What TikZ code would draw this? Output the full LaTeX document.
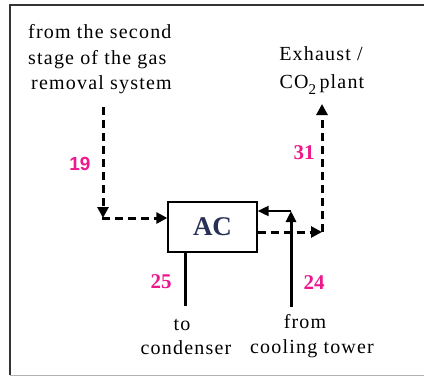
\documentclass[tikz,border=0pt]{standalone}
\usepackage{fontspec}
\setmainfont{Liberation Serif}
\newfontfamily\labsans{Liberation Sans}
\newfontfamily\spaced[LetterSpace=6]{Liberation Serif}
\usetikzlibrary{arrows.meta}
\definecolor{pinklab}{RGB}{236,24,140}
\definecolor{acblue}{RGB}{40,48,86}
\tikzset{
  flow/.style={line width=3pt, dash pattern=on 8pt off 5pt, -{Triangle[length=11pt,width=11pt]}},
  solidflow/.style={line width=3pt, -{Triangle[length=11pt,width=10pt]}},
  solidplain/.style={line width=3pt},
  txt/.style={font=\spaced\fontsize{20}{26}\selectfont, inner sep=0pt},
  labserif/.style={text=pinklab, font=\fontsize{21}{21}\selectfont\bfseries, inner sep=0pt},
  labs/.style={text=pinklab, font=\labsans\fontsize{19}{19}\selectfont\bfseries, inner sep=0pt},
  unit/.style={draw, line width=1.3pt, minimum width=89pt, minimum height=50pt, inner sep=0pt,
    font=\fontsize{27}{27}\selectfont\bfseries, text=acblue}
}
\begin{document}
\begin{tikzpicture}[x=1pt,y=-1pt]
\useasboundingbox (0,0) rectangle (424,378);
% frame
\draw[line width=2.4pt, black!80] (10,375) -- (10,5) -- (424,5);
\draw[line width=0.8pt, black!30] (10,375) -- (424,375);
% unit
\node[unit] (ac) at (212.5,227) {AC};
% top-left text
\node[txt, anchor=base west] (src1) at (28,38) {from the second};
\node[txt, anchor=base west] (src2) at (28,64) {stage of the gas};
\node[txt, anchor=base west] (src3) at (31,89) {removal system};
\node[txt, anchor=base] (exh1) at (321,60) {Exhaust /};
\node[txt, anchor=base] (exh2) at (322,88) {CO\raisebox{-6pt}{\fontsize{15}{15}\selectfont 2}\,plant};
% coordinates
\coordinate (s19top) at (103,107);
\coordinate (s19c) at (103,218);
\coordinate (s31c) at (322,232);
\coordinate (s31top) at (322,104);
\coordinate (s24bot) at (291,307);
\coordinate (s24c) at (291,211);
\coordinate (s25bot) at (185,306);
% stream 19
\draw[flow] (s19top) -- (s19c);
\draw[flow, shorten <=-1pt] (s19c) -- (s19c -| ac.west);
% stream 31
\draw[flow] (ac.east |- s31c) -- (s31c);
\draw[flow] (s31c) -- (s31top);
% stream 24
\draw[solidflow] (s24bot) -- (s24c);
\draw[line width=2pt, -{Triangle[length=11pt,width=10pt]}] (s24c) -- (s24c -| ac.east);
% stream 25
\draw[solidplain] (s25bot) -- (s25bot |- ac.south);
% labels
\node[labs] (l19) at (80,164) {19};
\node[labserif] (l31) at (304,153) {31};
\node[labserif] (l25) at (161,282) {25};
\node[labserif] (l24) at (314,283) {24};
% end texts
\node[txt, anchor=base] (to) at (182,330) {to};
\node[txt, anchor=base] (cond) at (186,354) {condenser};
\node[txt, anchor=base] (ft) at (305,328) {from};
\node[txt, anchor=base] (ct) at (312,353) {cooling tower};
\end{tikzpicture}
\end{document}
